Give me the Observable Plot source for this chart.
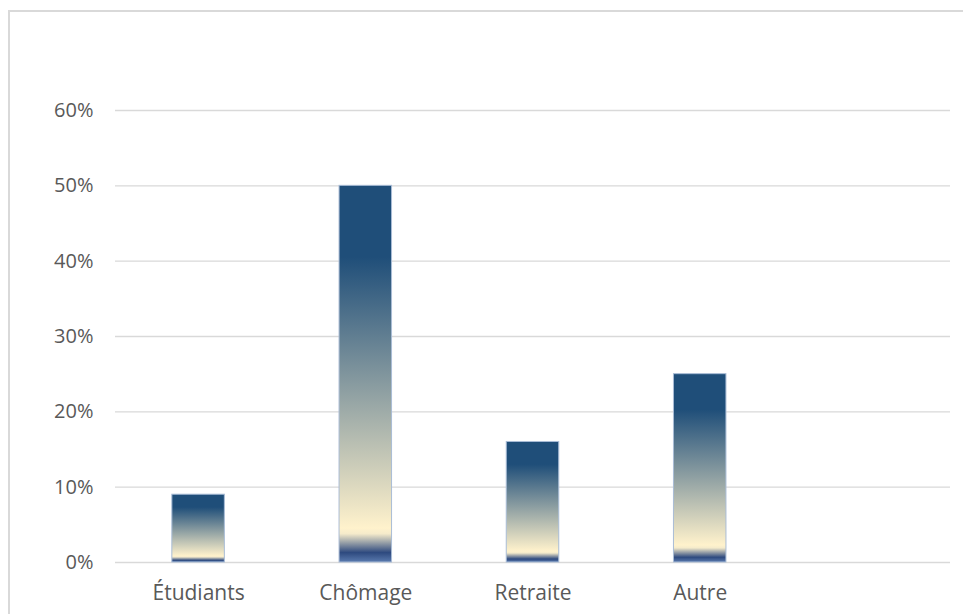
<!DOCTYPE html>
<html>
<head>
<meta charset="utf-8">
<script src="https://cdn.jsdelivr.net/npm/d3@7"></script>
<script src="https://cdn.jsdelivr.net/npm/@observablehq/plot@0.6"></script>
<style>
  html, body { margin: 0; padding: 0; background: #fff; }
  #wrap { position: relative; width: 963px; height: 614px; overflow: hidden; }
  #frame { position: absolute; left: 8px; top: 10px; width: 1000px; height: 700px; border: 2px solid #d9d9d9; box-sizing: border-box; pointer-events: none; }
  #chart { position: absolute; left: 0; top: 0; }
</style>
</head>
<body>
<div id="wrap">
  <div id="chart"></div>
  <div id="frame"></div>
</div>
<script>
const categories = ["Étudiants", "Chômage", "Retraite", "Autre", ""];
const values = [0.09, 0.50, 0.16, 0.25];
const yTicks = [0, 0.1, 0.2, 0.3, 0.4, 0.5, 0.6];

const data = values.map((v, i) => ({cat: categories[i], value: v}));

const chart = Plot.plot({
  width: 963,
  height: 614,
  marginLeft: 115,
  marginRight: 13,
  marginTop: 110,
  marginBottom: 52,
  style: {fontFamily: "'Open Sans', sans-serif", fontSize: "20px", color: "#595959", background: "transparent"},
  x: {domain: categories, paddingInner: 0.686, paddingOuter: 0.34, round: false, label: null},
  y: {domain: [0, 0.6], ticks: yTicks, label: null},
  marks: [
    Plot.ruleY(yTicks, {stroke: "#d9d9d9", strokeWidth: 1.3}),
    Plot.axisY({ticks: yTicks, tickSize: 0, tickPadding: 22, tickFormat: d => Math.round(d * 100) + "%", label: null, fill: "#595959", fontSize: 20}),
    Plot.axisX({tickSize: 0, tickPadding: 23, label: null, fill: "#595959", fontSize: 21}),
    Plot.barY(data, {x: "cat", y: "value", fill: "url(#barGrad)", stroke: "#a9bcd6", strokeWidth: 1})
  ]
});

const defs = d3.select(chart).insert("defs", ":first-child");
const grad = defs.append("linearGradient").attr("id", "barGrad")
  .attr("x1", 0).attr("y1", 0).attr("x2", 0).attr("y2", 1);
[
  [0, "#1F4E79"],
  [0.19, "#1F4E79"],
  [0.91, "#FFF2CC"],
  [0.925, "#F5EBCB"],
  [0.975, "#2E4A7F"],
  [1, "#5A7AAE"]
].forEach(([o, c]) => grad.append("stop").attr("offset", o).attr("stop-color", c));

document.getElementById("chart").appendChild(chart);
</script>
</body>
</html>
